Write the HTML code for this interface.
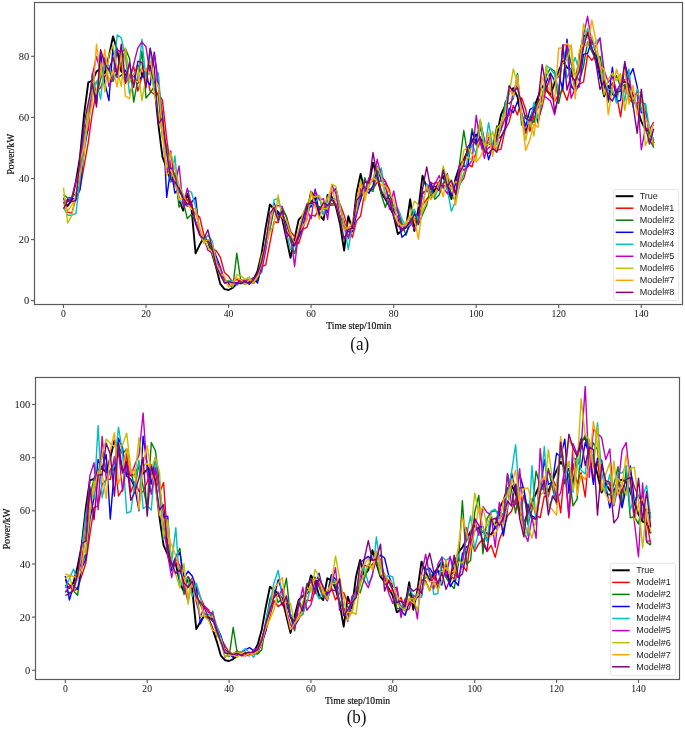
<!DOCTYPE html>
<html><head><meta charset="utf-8"><style>
html,body{margin:0;padding:0;background:#fff;}
body{width:685px;height:731px;overflow:hidden;}
svg{display:block;will-change:transform;}
.tk{font-family:"Liberation Serif",serif;font-size:10.9px;fill:#111;}
.al{font-family:"Liberation Serif",serif;font-size:10.7px;fill:#111;stroke:#111;stroke-width:0.2px;}
.lg{font-family:"Liberation Sans",sans-serif;font-size:9px;fill:#222;}
.cap{font-family:"Liberation Serif",serif;font-size:18.7px;fill:#111;}
</style></head><body>
<svg width="685" height="731" viewBox="0 0 685 731">
<rect width="685" height="731" fill="#fff"/>
<g>
<clipPath id="ca"><rect x="34.5" y="2.5" width="648.0" height="302.0"/></clipPath>
<g clip-path="url(#ca)" fill="none" stroke-width="1.3" stroke-linejoin="round">
<polyline stroke="#000000" stroke-width="1.9" points="63.5,202.9 67.6,206.0 71.8,199.9 75.9,181.6 80.0,157.1 84.1,114.3 88.3,82.3 92.4,80.7 96.5,71.6 100.6,68.5 104.8,73.1 108.9,56.3 113.0,36.4 117.2,50.2 121.3,71.6 125.4,74.6 129.5,76.2 133.7,76.2 137.8,65.5 141.9,74.6 146.0,70.0 150.2,65.5 154.3,83.8 158.4,125.0 162.5,157.1 166.7,167.8 170.8,181.6 174.9,178.5 179.1,199.9 183.2,210.6 187.3,193.8 191.4,207.5 195.6,253.3 199.7,244.8 203.8,237.8 207.9,241.1 212.1,253.7 216.2,267.7 220.3,283.9 224.5,289.1 228.6,290.0 232.7,287.9 236.8,283.9 241.0,282.1 245.1,281.1 249.2,283.3 253.3,279.9 257.5,271.1 261.6,253.7 265.7,227.4 269.9,204.5 274.0,209.0 278.1,212.1 282.2,218.8 286.4,238.4 290.5,257.9 294.6,238.4 298.7,219.7 302.9,215.5 307.0,212.1 311.1,191.6 315.2,198.7 319.4,214.9 323.5,220.0 327.6,195.0 331.8,196.8 335.9,206.6 340.0,223.7 344.1,250.6 348.3,216.1 352.4,229.5 356.5,193.2 360.6,173.9 364.8,191.3 368.9,185.5 373.0,162.6 377.2,177.9 381.3,193.2 385.4,199.0 389.5,206.6 393.7,215.2 397.8,234.1 401.9,230.4 406.0,227.4 410.2,199.3 414.3,231.0 418.4,209.0 422.5,175.8 426.7,187.7 430.8,197.7 434.9,189.8 439.1,182.5 443.2,176.1 447.3,188.6 451.4,199.0 455.6,178.5 459.7,165.7 463.8,159.3 467.9,151.0 472.1,140.9 476.2,134.5 480.3,139.7 484.5,141.5 488.6,143.4 492.7,144.9 496.8,136.0 501.0,114.7 505.1,105.8 509.2,91.7 513.3,88.1 517.5,96.9 521.6,116.5 525.7,132.7 529.9,120.1 534.0,107.6 538.1,96.9 542.2,86.2 546.4,89.9 550.5,95.1 554.6,82.6 558.7,71.0 562.9,61.2 567.0,67.6 571.1,69.4 575.2,88.1 579.4,55.1 583.5,36.7 587.6,33.7 591.8,49.0 595.9,57.2 600.0,75.5 604.1,96.3 608.3,85.9 612.4,94.2 616.5,96.3 620.6,83.5 624.8,81.4 628.9,84.7 633.0,95.4 637.2,107.9 641.3,121.4 645.4,129.6 649.5,131.1 653.7,143.4"/>
<polyline stroke="#ff0000" stroke-width="1.4" points="63.5,197.5 67.6,212.1 71.8,213.1 75.9,198.6 80.0,189.5 84.1,165.7 88.3,142.1 92.4,112.4 96.5,91.9 100.6,87.6 104.8,77.1 108.9,68.8 113.0,72.6 117.2,70.2 121.3,64.7 125.4,83.4 129.5,76.1 133.7,66.3 137.8,91.1 141.9,77.4 146.0,70.1 150.2,91.3 154.3,94.3 158.4,93.3 162.5,100.4 166.7,138.8 170.8,167.6 174.9,177.8 179.1,192.4 183.2,195.5 187.3,199.9 191.4,207.7 195.6,214.1 199.7,217.1 203.8,234.7 207.9,241.9 212.1,248.8 216.2,250.7 220.3,257.2 224.5,272.6 228.6,276.3 232.7,282.3 236.8,279.4 241.0,281.5 245.1,281.0 249.2,283.5 253.3,279.2 257.5,281.0 261.6,266.9 265.7,264.8 269.9,243.2 274.0,221.8 278.1,222.5 282.2,209.3 286.4,216.4 290.5,231.2 294.6,236.8 298.7,243.6 302.9,229.5 307.0,227.2 311.1,215.0 315.2,216.1 319.4,206.7 323.5,214.4 327.6,205.0 331.8,205.2 335.9,204.9 340.0,203.9 344.1,215.1 348.3,228.9 352.4,237.4 356.5,220.9 360.6,216.0 364.8,191.2 368.9,189.3 373.0,189.2 377.2,182.2 381.3,180.7 385.4,181.6 389.5,190.1 393.7,209.7 397.8,210.5 401.9,225.6 406.0,223.6 410.2,225.7 414.3,218.1 418.4,219.6 422.5,205.0 426.7,199.3 430.8,194.1 434.9,182.4 439.1,183.4 443.2,187.0 447.3,184.4 451.4,185.6 455.6,192.4 459.7,183.7 463.8,178.4 467.9,163.9 472.1,166.8 476.2,151.5 480.3,141.4 484.5,152.6 488.6,147.9 492.7,145.1 496.8,150.4 501.0,149.1 505.1,129.7 509.2,121.7 513.3,105.5 517.5,115.0 521.6,97.7 525.7,109.4 529.9,131.3 534.0,115.9 538.1,120.5 542.2,106.7 546.4,87.8 550.5,95.9 554.6,101.3 558.7,94.2 562.9,89.9 567.0,100.3 571.1,84.7 575.2,92.0 579.4,84.2 583.5,82.0 587.6,54.8 591.8,60.3 595.9,55.4 600.0,69.3 604.1,85.1 608.3,90.2 612.4,82.8 616.5,94.4 620.6,116.8 624.8,84.3 628.9,99.4 633.0,102.4 637.2,103.8 641.3,99.9 645.4,112.7 649.5,128.2 653.7,145.5"/>
<polyline stroke="#008000" stroke-width="1.4" points="63.5,194.6 67.6,198.0 71.8,197.1 75.9,193.4 80.0,184.8 84.1,135.3 88.3,110.7 92.4,73.2 96.5,96.0 100.6,79.0 104.8,65.0 108.9,69.6 113.0,81.4 117.2,71.3 121.3,63.9 125.4,48.6 129.5,58.4 133.7,102.1 137.8,79.5 141.9,51.1 146.0,98.0 150.2,92.8 154.3,86.5 158.4,96.5 162.5,137.9 166.7,145.9 170.8,181.4 174.9,172.9 179.1,207.2 183.2,201.6 187.3,218.5 191.4,214.4 195.6,221.6 199.7,234.1 203.8,242.8 207.9,239.9 212.1,250.8 216.2,262.0 220.3,275.7 224.5,280.3 228.6,283.6 232.7,287.8 236.8,253.3 241.0,282.2 245.1,284.4 249.2,281.8 253.3,283.4 257.5,279.5 261.6,263.0 265.7,243.3 269.9,229.6 274.0,209.3 278.1,217.3 282.2,207.4 286.4,216.8 290.5,241.4 294.6,253.6 298.7,235.9 302.9,226.9 307.0,218.7 311.1,200.5 315.2,206.0 319.4,206.6 323.5,209.0 327.6,205.0 331.8,203.7 335.9,203.4 340.0,215.6 344.1,226.9 348.3,236.8 352.4,225.7 356.5,205.1 360.6,200.7 364.8,177.7 368.9,189.9 373.0,191.4 377.2,171.0 381.3,194.7 385.4,207.5 389.5,193.6 393.7,208.5 397.8,211.4 401.9,223.1 406.0,235.4 410.2,219.7 414.3,211.8 418.4,224.7 422.5,214.5 426.7,205.3 430.8,185.7 434.9,199.2 439.1,194.9 443.2,184.2 447.3,173.4 451.4,196.1 455.6,200.2 459.7,162.6 463.8,130.5 467.9,156.6 472.1,128.8 476.2,145.1 480.3,127.8 484.5,143.8 488.6,142.8 492.7,146.6 496.8,125.8 501.0,130.4 505.1,102.3 509.2,103.7 513.3,98.6 517.5,73.4 521.6,125.1 525.7,115.4 529.9,117.3 534.0,122.5 538.1,101.6 542.2,96.2 546.4,74.9 550.5,68.3 554.6,71.3 558.7,103.4 562.9,83.5 567.0,45.6 571.1,63.7 575.2,74.1 579.4,80.8 583.5,66.6 587.6,41.7 591.8,51.4 595.9,59.2 600.0,56.4 604.1,79.7 608.3,102.2 612.4,86.1 616.5,75.7 620.6,86.9 624.8,84.9 628.9,96.1 633.0,99.0 637.2,106.6 641.3,101.8 645.4,104.2 649.5,139.3 653.7,147.8"/>
<polyline stroke="#0000ff" stroke-width="1.4" points="63.5,202.9 67.6,199.6 71.8,198.6 75.9,199.2 80.0,189.3 84.1,151.0 88.3,126.6 92.4,84.8 96.5,103.4 100.6,52.9 104.8,82.7 108.9,100.6 113.0,46.7 117.2,77.6 121.3,75.4 125.4,70.2 129.5,79.6 133.7,75.3 137.8,83.5 141.9,75.6 146.0,79.1 150.2,85.2 154.3,52.3 158.4,84.0 162.5,115.0 166.7,197.4 170.8,168.1 174.9,193.2 179.1,187.4 183.2,200.7 187.3,206.3 191.4,202.4 195.6,197.4 199.7,234.8 203.8,237.8 207.9,240.4 212.1,244.2 216.2,256.6 220.3,266.9 224.5,282.9 228.6,282.7 232.7,282.6 236.8,282.7 241.0,280.7 245.1,283.0 249.2,281.6 253.3,277.8 257.5,283.1 261.6,265.3 265.7,247.6 269.9,228.7 274.0,203.0 278.1,214.4 282.2,213.1 286.4,224.5 290.5,235.5 294.6,244.9 298.7,237.5 302.9,226.6 307.0,207.6 311.1,206.8 315.2,189.3 319.4,215.7 323.5,207.2 327.6,212.3 331.8,192.8 335.9,188.6 340.0,205.9 344.1,223.6 348.3,231.8 352.4,231.6 356.5,214.8 360.6,198.9 364.8,188.3 368.9,193.2 373.0,185.7 377.2,166.7 381.3,180.5 385.4,186.2 389.5,201.1 393.7,211.5 397.8,217.2 401.9,237.2 406.0,233.8 410.2,223.8 414.3,214.1 418.4,217.8 422.5,193.7 426.7,189.8 430.8,182.1 434.9,194.7 439.1,185.3 443.2,186.1 447.3,185.0 451.4,195.9 455.6,183.5 459.7,169.3 463.8,166.0 467.9,166.3 472.1,131.9 476.2,142.0 480.3,121.0 484.5,140.7 488.6,159.7 492.7,146.8 496.8,139.6 501.0,136.6 505.1,129.1 509.2,108.3 513.3,112.7 517.5,101.5 521.6,113.1 525.7,126.1 529.9,109.6 534.0,106.7 538.1,123.1 542.2,99.2 546.4,81.9 550.5,73.0 554.6,81.0 558.7,75.1 562.9,89.3 567.0,39.1 571.1,86.6 575.2,90.9 579.4,83.4 583.5,54.4 587.6,53.4 591.8,40.0 595.9,52.5 600.0,78.5 604.1,85.4 608.3,99.9 612.4,67.3 616.5,101.2 620.6,100.5 624.8,64.3 628.9,77.3 633.0,68.6 637.2,86.6 641.3,112.8 645.4,112.3 649.5,130.1 653.7,140.2"/>
<polyline stroke="#00bfbf" stroke-width="1.4" points="63.5,207.1 67.6,215.2 71.8,215.2 75.9,213.6 80.0,180.3 84.1,140.1 88.3,116.6 92.4,91.4 96.5,81.0 100.6,99.1 104.8,59.4 108.9,65.6 113.0,78.6 117.2,34.9 121.3,37.8 125.4,56.2 129.5,93.8 133.7,81.2 137.8,78.6 141.9,39.2 146.0,80.2 150.2,48.3 154.3,87.4 158.4,72.9 162.5,128.3 166.7,150.5 170.8,181.5 174.9,155.9 179.1,200.5 183.2,202.9 187.3,190.2 191.4,192.2 195.6,206.6 199.7,233.2 203.8,241.6 207.9,235.1 212.1,240.6 216.2,261.1 220.3,268.1 224.5,281.0 228.6,280.5 232.7,281.5 236.8,285.5 241.0,280.4 245.1,279.8 249.2,279.1 253.3,281.9 257.5,276.4 261.6,272.4 265.7,239.3 269.9,228.0 274.0,199.9 278.1,198.3 282.2,214.4 286.4,232.0 290.5,249.4 294.6,246.4 298.7,230.9 302.9,219.2 307.0,203.6 311.1,204.3 315.2,202.3 319.4,196.8 323.5,215.4 327.6,197.4 331.8,199.4 335.9,199.0 340.0,205.7 344.1,225.4 348.3,249.4 352.4,225.5 356.5,211.2 360.6,194.5 364.8,188.8 368.9,181.4 373.0,179.1 377.2,177.7 381.3,168.0 385.4,195.0 389.5,205.0 393.7,207.6 397.8,208.1 401.9,218.6 406.0,226.8 410.2,224.6 414.3,209.2 418.4,219.5 422.5,205.8 426.7,183.5 430.8,193.0 434.9,197.0 439.1,186.7 443.2,170.2 447.3,189.5 451.4,211.2 455.6,201.0 459.7,185.5 463.8,173.6 467.9,158.0 472.1,144.0 476.2,154.4 480.3,120.5 484.5,151.6 488.6,122.6 492.7,146.1 496.8,144.1 501.0,126.2 505.1,107.7 509.2,85.4 513.3,97.5 517.5,74.9 521.6,120.6 525.7,117.9 529.9,125.7 534.0,102.1 538.1,118.4 542.2,101.4 546.4,65.5 550.5,69.0 554.6,74.3 558.7,90.2 562.9,45.3 567.0,77.8 571.1,68.9 575.2,57.4 579.4,72.2 583.5,42.8 587.6,28.4 591.8,49.1 595.9,41.9 600.0,37.9 604.1,79.1 608.3,89.8 612.4,89.7 616.5,103.1 620.6,80.3 624.8,101.1 628.9,69.0 633.0,107.3 637.2,89.1 641.3,109.5 645.4,103.6 649.5,128.7 653.7,140.1"/>
<polyline stroke="#bf00bf" stroke-width="1.4" points="63.5,199.0 67.6,201.7 71.8,197.4 75.9,182.0 80.0,167.1 84.1,125.0 88.3,130.6 92.4,74.9 96.5,56.5 100.6,71.9 104.8,57.8 108.9,86.2 113.0,78.2 117.2,49.5 121.3,52.5 125.4,49.0 129.5,82.0 133.7,64.0 137.8,48.1 141.9,41.9 146.0,46.8 150.2,74.6 154.3,54.1 158.4,87.1 162.5,123.0 166.7,173.6 170.8,151.0 174.9,184.9 179.1,166.0 183.2,207.3 187.3,188.2 191.4,204.5 195.6,221.8 199.7,232.8 203.8,238.2 207.9,250.2 212.1,253.0 216.2,261.0 220.3,267.5 224.5,280.1 228.6,285.6 232.7,283.2 236.8,284.3 241.0,279.9 245.1,281.9 249.2,279.6 253.3,278.9 257.5,276.3 261.6,271.1 265.7,250.6 269.9,222.7 274.0,206.3 278.1,205.6 282.2,206.4 286.4,237.1 290.5,233.6 294.6,266.5 298.7,230.7 302.9,229.7 307.0,210.4 311.1,218.8 315.2,190.7 319.4,200.0 323.5,198.6 327.6,219.3 331.8,184.6 335.9,193.7 340.0,217.2 344.1,220.7 348.3,238.7 352.4,223.2 356.5,213.5 360.6,188.8 364.8,191.3 368.9,177.7 373.0,181.8 377.2,159.3 381.3,175.8 385.4,181.2 389.5,209.4 393.7,191.0 397.8,211.4 401.9,230.8 406.0,224.8 410.2,221.4 414.3,229.0 418.4,221.9 422.5,192.3 426.7,191.2 430.8,182.9 434.9,184.2 439.1,175.5 443.2,187.3 447.3,193.7 451.4,185.2 455.6,192.8 459.7,164.7 463.8,170.2 467.9,166.7 472.1,160.2 476.2,115.4 480.3,142.4 484.5,158.4 488.6,137.5 492.7,147.8 496.8,140.0 501.0,130.0 505.1,118.0 509.2,115.4 513.3,91.0 517.5,85.3 521.6,113.5 525.7,133.3 529.9,124.2 534.0,112.8 538.1,108.1 542.2,96.0 546.4,97.4 550.5,101.1 554.6,114.9 558.7,94.7 562.9,45.0 567.0,45.1 571.1,98.3 575.2,88.1 579.4,86.8 583.5,34.9 587.6,16.3 591.8,43.3 595.9,46.9 600.0,38.0 604.1,70.6 608.3,82.3 612.4,76.8 616.5,91.0 620.6,83.9 624.8,79.6 628.9,78.6 633.0,98.5 637.2,92.7 641.3,149.5 645.4,128.3 649.5,129.5 653.7,122.0"/>
<polyline stroke="#bfbf00" stroke-width="1.4" points="63.5,187.7 67.6,222.8 71.8,215.3 75.9,194.1 80.0,175.1 84.1,155.1 88.3,106.6 92.4,85.4 96.5,93.7 100.6,63.0 104.8,91.8 108.9,55.2 113.0,45.4 117.2,69.3 121.3,86.4 125.4,48.0 129.5,81.7 133.7,75.0 137.8,66.9 141.9,100.7 146.0,77.1 150.2,71.7 154.3,91.9 158.4,112.8 162.5,134.8 166.7,168.0 170.8,152.7 174.9,169.0 179.1,185.0 183.2,194.2 187.3,203.9 191.4,209.4 195.6,208.4 199.7,228.8 203.8,238.7 207.9,247.0 212.1,252.0 216.2,266.4 220.3,275.8 224.5,281.8 228.6,281.4 232.7,286.4 236.8,274.8 241.0,275.9 245.1,279.5 249.2,276.8 253.3,283.1 257.5,276.5 261.6,256.5 265.7,245.3 269.9,231.5 274.0,225.1 278.1,195.0 282.2,217.5 286.4,220.0 290.5,234.0 294.6,245.2 298.7,231.0 302.9,213.5 307.0,203.8 311.1,196.0 315.2,197.0 319.4,195.3 323.5,209.0 327.6,208.3 331.8,184.2 335.9,186.4 340.0,206.2 344.1,224.6 348.3,230.1 352.4,221.0 356.5,210.3 360.6,180.7 364.8,195.5 368.9,186.6 373.0,178.9 377.2,167.3 381.3,176.3 385.4,198.1 389.5,199.8 393.7,215.4 397.8,222.1 401.9,226.3 406.0,222.7 410.2,215.9 414.3,201.1 418.4,205.1 422.5,211.6 426.7,201.4 430.8,196.9 434.9,192.8 439.1,189.5 443.2,166.0 447.3,182.1 451.4,189.5 455.6,181.4 459.7,184.0 463.8,161.3 467.9,156.9 472.1,160.1 476.2,159.8 480.3,119.1 484.5,144.9 488.6,144.1 492.7,131.2 496.8,151.2 501.0,121.8 505.1,113.2 509.2,93.8 513.3,68.9 517.5,83.4 521.6,114.1 525.7,140.0 529.9,120.3 534.0,136.0 538.1,102.1 542.2,103.8 546.4,65.5 550.5,88.7 554.6,79.7 558.7,75.3 562.9,62.7 567.0,60.2 571.1,44.8 575.2,76.4 579.4,70.2 583.5,23.9 587.6,37.7 591.8,35.5 595.9,51.1 600.0,61.9 604.1,94.9 608.3,79.3 612.4,72.9 616.5,80.6 620.6,73.6 624.8,110.4 628.9,88.0 633.0,99.3 637.2,94.0 641.3,91.4 645.4,145.5 649.5,136.6 653.7,123.8"/>
<polyline stroke="#ffa500" stroke-width="1.4" points="63.5,203.2 67.6,211.1 71.8,205.3 75.9,197.4 80.0,160.5 84.1,146.4 88.3,121.0 92.4,101.5 96.5,44.1 100.6,76.2 104.8,49.5 108.9,82.0 113.0,69.8 117.2,86.8 121.3,51.1 125.4,96.0 129.5,98.7 133.7,79.2 137.8,82.5 141.9,67.4 146.0,70.9 150.2,60.9 154.3,79.1 158.4,85.5 162.5,130.2 166.7,175.6 170.8,169.5 174.9,180.7 179.1,199.7 183.2,197.1 187.3,205.1 191.4,208.5 195.6,212.5 199.7,227.5 203.8,243.2 207.9,239.4 212.1,243.5 216.2,262.2 220.3,273.8 224.5,276.1 228.6,287.1 232.7,282.6 236.8,277.8 241.0,279.9 245.1,284.5 249.2,279.7 253.3,282.3 257.5,276.7 261.6,263.9 265.7,244.6 269.9,223.4 274.0,205.2 278.1,219.5 282.2,214.3 286.4,229.2 290.5,237.4 294.6,243.2 298.7,232.7 302.9,226.2 307.0,219.5 311.1,191.3 315.2,206.6 319.4,219.3 323.5,204.1 327.6,198.1 331.8,187.8 335.9,203.5 340.0,219.1 344.1,230.0 348.3,227.4 352.4,229.5 356.5,200.2 360.6,182.7 364.8,200.7 368.9,183.5 373.0,178.1 377.2,180.8 381.3,184.9 385.4,186.0 389.5,193.1 393.7,200.2 397.8,223.4 401.9,225.8 406.0,225.2 410.2,215.7 414.3,218.7 418.4,239.0 422.5,206.6 426.7,185.7 430.8,199.7 434.9,193.9 439.1,182.2 443.2,196.7 447.3,175.0 451.4,183.8 455.6,205.1 459.7,179.4 463.8,150.2 467.9,147.8 472.1,154.2 476.2,162.0 480.3,156.9 484.5,147.0 488.6,132.7 492.7,156.4 496.8,128.9 501.0,123.6 505.1,114.5 509.2,87.7 513.3,95.8 517.5,76.0 521.6,116.8 525.7,150.4 529.9,139.5 534.0,124.1 538.1,127.3 542.2,77.0 546.4,85.9 550.5,90.1 554.6,101.3 558.7,48.2 562.9,47.7 567.0,43.2 571.1,48.2 575.2,98.8 579.4,50.5 583.5,44.4 587.6,46.4 591.8,20.2 595.9,40.2 600.0,66.3 604.1,69.4 608.3,114.7 612.4,88.2 616.5,69.2 620.6,82.7 624.8,69.4 628.9,104.4 633.0,85.3 637.2,115.2 641.3,92.7 645.4,116.5 649.5,129.0 653.7,144.6"/>
<polyline stroke="#800080" stroke-width="1.4" points="63.5,208.7 67.6,200.6 71.8,201.7 75.9,200.4 80.0,157.3 84.1,123.7 88.3,102.9 92.4,83.4 96.5,107.0 100.6,49.6 104.8,63.8 108.9,69.9 113.0,57.5 117.2,74.4 121.3,44.1 125.4,81.9 129.5,62.2 133.7,87.3 137.8,61.3 141.9,62.4 146.0,88.0 150.2,48.1 154.3,67.6 158.4,124.2 162.5,117.8 166.7,152.9 170.8,179.5 174.9,181.9 179.1,188.6 183.2,198.1 187.3,204.5 191.4,201.6 195.6,224.0 199.7,235.3 203.8,239.0 207.9,229.8 212.1,248.1 216.2,266.6 220.3,274.4 224.5,283.0 228.6,281.8 232.7,282.6 236.8,283.1 241.0,283.8 245.1,280.9 249.2,284.2 253.3,279.7 257.5,273.3 261.6,262.0 265.7,243.2 269.9,213.3 274.0,207.6 278.1,220.6 282.2,210.9 286.4,232.0 290.5,237.4 294.6,245.4 298.7,234.5 302.9,219.3 307.0,204.4 311.1,203.1 315.2,202.1 319.4,210.1 323.5,202.5 327.6,205.6 331.8,199.6 335.9,204.9 340.0,218.9 344.1,239.0 348.3,229.4 352.4,228.4 356.5,200.3 360.6,195.9 364.8,181.5 368.9,183.1 373.0,152.5 377.2,176.7 381.3,190.2 385.4,198.6 389.5,198.8 393.7,217.3 397.8,225.9 401.9,229.0 406.0,227.7 410.2,221.3 414.3,215.2 418.4,214.6 422.5,189.4 426.7,166.9 430.8,189.4 434.9,186.1 439.1,190.9 443.2,169.9 447.3,186.5 451.4,180.2 455.6,194.6 459.7,172.8 463.8,164.8 467.9,146.7 472.1,141.0 476.2,143.9 480.3,136.8 484.5,151.4 488.6,153.5 492.7,148.2 496.8,152.3 501.0,138.4 505.1,128.0 509.2,85.9 513.3,91.4 517.5,87.9 521.6,103.5 525.7,118.5 529.9,120.9 534.0,111.1 538.1,101.2 542.2,64.5 546.4,89.2 550.5,75.4 554.6,111.9 558.7,94.8 562.9,45.3 567.0,90.1 571.1,75.1 575.2,81.5 579.4,71.1 583.5,47.6 587.6,32.5 591.8,48.4 595.9,62.9 600.0,89.5 604.1,80.9 608.3,96.6 612.4,101.0 616.5,91.2 620.6,91.6 624.8,61.4 628.9,90.4 633.0,104.7 637.2,133.3 641.3,89.2 645.4,125.8 649.5,144.1 653.7,128.8"/>
</g>
<rect x="34.5" y="2.5" width="648.0" height="302.0" fill="none" stroke="#5a5a5a" stroke-width="1.2"/>
<line x1="31.0" y1="300.7" x2="34.5" y2="300.7" stroke="#5a5a5a" stroke-width="1.1"/>
<text transform="translate(29.3,304.3) scale(0.96,1)" class="tk" text-anchor="end">0</text>
<line x1="31.0" y1="239.6" x2="34.5" y2="239.6" stroke="#5a5a5a" stroke-width="1.1"/>
<text transform="translate(29.3,243.2) scale(0.96,1)" class="tk" text-anchor="end">20</text>
<line x1="31.0" y1="178.5" x2="34.5" y2="178.5" stroke="#5a5a5a" stroke-width="1.1"/>
<text transform="translate(29.3,182.1) scale(0.96,1)" class="tk" text-anchor="end">40</text>
<line x1="31.0" y1="117.4" x2="34.5" y2="117.4" stroke="#5a5a5a" stroke-width="1.1"/>
<text transform="translate(29.3,121.0) scale(0.96,1)" class="tk" text-anchor="end">60</text>
<line x1="31.0" y1="56.3" x2="34.5" y2="56.3" stroke="#5a5a5a" stroke-width="1.1"/>
<text transform="translate(29.3,59.9) scale(0.96,1)" class="tk" text-anchor="end">80</text>
<line x1="63.5" y1="304.5" x2="63.5" y2="308.0" stroke="#5a5a5a" stroke-width="1.1"/>
<text transform="translate(63.5,317.1) scale(0.89,1)" class="tk" text-anchor="middle">0</text>
<line x1="146.0" y1="304.5" x2="146.0" y2="308.0" stroke="#5a5a5a" stroke-width="1.1"/>
<text transform="translate(146.0,317.1) scale(0.89,1)" class="tk" text-anchor="middle">20</text>
<line x1="228.6" y1="304.5" x2="228.6" y2="308.0" stroke="#5a5a5a" stroke-width="1.1"/>
<text transform="translate(228.6,317.1) scale(0.89,1)" class="tk" text-anchor="middle">40</text>
<line x1="311.1" y1="304.5" x2="311.1" y2="308.0" stroke="#5a5a5a" stroke-width="1.1"/>
<text transform="translate(311.1,317.1) scale(0.89,1)" class="tk" text-anchor="middle">60</text>
<line x1="393.7" y1="304.5" x2="393.7" y2="308.0" stroke="#5a5a5a" stroke-width="1.1"/>
<text transform="translate(393.7,317.1) scale(0.89,1)" class="tk" text-anchor="middle">80</text>
<line x1="476.2" y1="304.5" x2="476.2" y2="308.0" stroke="#5a5a5a" stroke-width="1.1"/>
<text transform="translate(476.2,317.1) scale(0.89,1)" class="tk" text-anchor="middle">100</text>
<line x1="558.7" y1="304.5" x2="558.7" y2="308.0" stroke="#5a5a5a" stroke-width="1.1"/>
<text transform="translate(558.7,317.1) scale(0.89,1)" class="tk" text-anchor="middle">120</text>
<line x1="641.3" y1="304.5" x2="641.3" y2="308.0" stroke="#5a5a5a" stroke-width="1.1"/>
<text transform="translate(641.3,317.1) scale(0.89,1)" class="tk" text-anchor="middle">140</text>
<rect x="613.7" y="189.4" width="65.0" height="111.2" rx="2" fill="#fff" fill-opacity="0.8" stroke="#ddd" stroke-width="0.8"/>
<line x1="615.7" y1="196.2" x2="633.4" y2="196.2" stroke="#000000" stroke-width="2.0"/>
<text x="639.7" y="199.0" class="lg">True</text>
<line x1="615.7" y1="208.2" x2="633.4" y2="208.2" stroke="#ff0000" stroke-width="1.5"/>
<text x="639.7" y="211.0" class="lg">Model#1</text>
<line x1="615.7" y1="220.2" x2="633.4" y2="220.2" stroke="#008000" stroke-width="1.5"/>
<text x="639.7" y="223.0" class="lg">Model#2</text>
<line x1="615.7" y1="232.3" x2="633.4" y2="232.3" stroke="#0000ff" stroke-width="1.5"/>
<text x="639.7" y="235.1" class="lg">Model#3</text>
<line x1="615.7" y1="244.3" x2="633.4" y2="244.3" stroke="#00bfbf" stroke-width="1.5"/>
<text x="639.7" y="247.1" class="lg">Model#4</text>
<line x1="615.7" y1="256.3" x2="633.4" y2="256.3" stroke="#bf00bf" stroke-width="1.5"/>
<text x="639.7" y="259.1" class="lg">Model#5</text>
<line x1="615.7" y1="268.3" x2="633.4" y2="268.3" stroke="#bfbf00" stroke-width="1.5"/>
<text x="639.7" y="271.1" class="lg">Model#6</text>
<line x1="615.7" y1="280.3" x2="633.4" y2="280.3" stroke="#ffa500" stroke-width="1.5"/>
<text x="639.7" y="283.1" class="lg">Model#7</text>
<line x1="615.7" y1="292.4" x2="633.4" y2="292.4" stroke="#800080" stroke-width="1.5"/>
<text x="639.7" y="295.2" class="lg">Model#8</text>
<clipPath id="cb"><rect x="35.5" y="377.5" width="644.0" height="302.0"/></clipPath>
<g clip-path="url(#cb)" fill="none" stroke-width="1.3" stroke-linejoin="round">
<polyline stroke="#000000" stroke-width="1.9" points="65.3,585.2 69.4,587.9 73.5,582.6 77.6,566.6 81.7,545.4 85.8,508.2 89.9,480.3 94.0,478.9 98.1,470.9 102.1,468.3 106.2,472.3 110.3,457.7 114.4,440.4 118.5,452.3 122.6,470.9 126.7,473.6 130.8,474.9 134.9,474.9 139.0,465.6 143.1,473.6 147.2,469.6 151.3,465.6 155.4,481.6 159.5,517.5 163.6,545.4 167.7,554.7 171.7,566.6 175.8,564.0 179.9,582.6 184.0,591.9 188.1,577.3 192.2,589.2 196.3,629.1 200.4,621.7 204.5,615.5 208.6,618.5 212.7,629.4 216.8,641.6 220.9,655.7 225.0,660.2 229.1,661.0 233.2,659.1 237.2,655.7 241.3,654.1 245.4,653.3 249.5,655.1 253.6,652.2 257.7,644.5 261.8,629.4 265.9,606.5 270.0,586.6 274.1,590.6 278.2,593.2 282.3,599.1 286.4,616.1 290.5,633.1 294.6,616.1 298.7,599.9 302.8,596.1 306.8,593.2 310.9,575.4 315.0,581.5 319.1,595.6 323.2,600.1 327.3,578.3 331.4,579.9 335.5,588.4 339.6,603.3 343.7,626.7 347.8,596.7 351.9,608.4 356.0,576.7 360.1,560.0 364.2,575.1 368.3,570.1 372.4,550.2 376.4,563.4 380.5,576.7 384.6,581.8 388.7,588.4 392.8,595.9 396.9,612.4 401.0,609.2 405.1,606.5 409.2,582.1 413.3,609.7 417.4,590.6 421.5,561.6 425.6,572.0 429.7,580.7 433.8,573.8 437.9,567.4 441.9,561.9 446.0,572.8 450.1,581.8 454.2,564.0 458.3,552.8 462.4,547.2 466.5,540.1 470.6,531.3 474.7,525.7 478.8,530.2 482.9,531.8 487.0,533.4 491.1,534.7 495.2,527.0 499.3,508.4 503.4,500.7 507.5,488.5 511.5,485.3 515.6,493.0 519.7,510.0 523.8,524.1 527.9,513.2 532.0,502.3 536.1,493.0 540.2,483.7 544.3,486.9 548.4,491.4 552.5,480.5 556.6,470.4 560.7,461.9 564.8,467.5 568.9,469.1 573.0,485.3 577.1,456.6 581.1,440.6 585.2,438.0 589.3,451.3 593.4,458.5 597.5,474.4 601.6,492.5 605.7,483.4 609.8,490.6 613.9,492.5 618.0,481.3 622.1,479.5 626.2,482.4 630.3,491.7 634.4,502.6 638.5,514.3 642.6,521.5 646.6,522.8 650.7,533.4"/>
<polyline stroke="#ff0000" stroke-width="1.4" points="65.3,579.5 69.4,585.0 73.5,591.3 77.6,588.5 81.7,575.7 85.8,563.3 89.9,534.7 94.0,507.6 98.1,505.8 102.1,484.3 106.2,479.7 110.3,479.3 114.4,456.6 118.5,496.0 122.6,489.2 126.7,452.3 130.8,492.3 134.9,481.8 139.0,491.2 143.1,491.8 147.2,482.1 151.3,465.0 155.4,472.5 159.5,493.0 163.6,482.6 167.7,543.0 171.7,565.3 175.8,562.2 179.9,567.8 184.0,581.5 188.1,576.7 192.2,582.8 196.3,586.7 200.4,597.7 204.5,606.2 208.6,609.7 212.7,620.0 216.8,629.1 220.9,638.3 225.0,645.7 229.1,652.7 233.2,653.8 237.2,651.1 241.3,655.7 245.4,655.5 249.5,652.8 253.6,654.4 257.7,653.1 261.8,643.3 265.9,630.7 270.0,616.1 274.1,600.6 278.2,606.6 282.3,603.3 286.4,599.5 290.5,617.4 294.6,620.3 298.7,618.3 302.8,613.3 306.8,600.1 310.9,600.7 315.0,580.5 319.1,580.6 323.2,588.8 327.3,596.3 331.4,587.3 335.5,599.9 339.6,593.0 343.7,592.6 347.8,603.4 351.9,603.0 356.0,597.3 360.1,584.8 364.2,565.2 368.3,566.9 372.4,564.3 376.4,563.5 380.5,565.7 384.6,574.5 388.7,590.7 392.8,590.8 396.9,603.8 401.0,597.3 405.1,610.8 409.2,608.9 413.3,595.5 417.4,597.6 421.5,579.5 425.6,580.7 429.7,590.7 433.8,576.1 437.9,587.6 441.9,565.2 446.0,573.3 450.1,576.2 454.2,578.9 458.3,557.9 462.4,565.2 466.5,571.1 470.6,539.6 474.7,551.3 478.8,543.7 482.9,538.6 487.0,551.5 491.1,545.3 495.2,557.3 499.3,539.8 503.4,529.8 507.5,515.7 511.5,511.3 515.6,498.8 519.7,514.9 523.8,495.5 527.9,514.6 532.0,501.7 536.1,515.6 540.2,517.5 544.3,496.2 548.4,496.5 552.5,479.2 556.6,487.0 560.7,512.7 564.8,466.7 568.9,518.0 573.0,463.5 577.1,483.3 581.1,472.6 585.2,497.0 589.3,450.3 593.4,478.6 597.5,461.6 601.6,490.0 605.7,482.7 609.8,484.1 613.9,492.2 618.0,480.2 622.1,492.2 626.2,489.4 630.3,471.7 634.4,487.3 638.5,495.9 642.6,499.3 646.6,520.7 650.7,544.5"/>
<polyline stroke="#008000" stroke-width="1.4" points="65.3,590.8 69.4,592.8 73.5,591.0 77.6,595.3 81.7,565.5 85.8,553.5 89.9,496.7 94.0,478.6 98.1,473.6 102.1,452.4 106.2,471.2 110.3,472.2 114.4,468.6 118.5,446.5 122.6,454.2 126.7,448.7 130.8,471.0 134.9,489.1 139.0,461.8 143.1,486.8 147.2,507.3 151.3,442.5 155.4,450.7 159.5,484.4 163.6,534.4 167.7,544.7 171.7,565.9 175.8,556.7 179.9,548.3 184.0,594.5 188.1,585.9 192.2,578.3 196.3,594.6 200.4,604.8 204.5,614.3 208.6,619.8 212.7,611.3 216.8,636.4 220.9,637.6 225.0,651.2 229.1,656.8 233.2,627.5 237.2,653.1 241.3,651.6 245.4,655.8 249.5,653.3 253.6,653.2 257.7,654.0 261.8,649.7 265.9,622.0 270.0,598.8 274.1,591.0 278.2,602.6 282.3,597.9 286.4,578.3 290.5,616.5 294.6,630.9 298.7,600.9 302.8,607.9 306.8,583.7 310.9,582.9 315.0,577.1 319.1,587.0 323.2,597.5 327.3,595.5 331.4,576.0 335.5,583.8 339.6,600.9 343.7,610.0 347.8,606.3 351.9,613.0 356.0,587.6 360.1,592.9 364.2,578.9 368.3,567.6 372.4,564.0 376.4,560.2 380.5,575.7 384.6,574.2 388.7,582.3 392.8,590.1 396.9,608.5 401.0,608.7 405.1,599.2 409.2,593.9 413.3,603.2 417.4,595.7 421.5,581.1 425.6,577.8 429.7,575.9 433.8,573.5 437.9,572.2 441.9,570.0 446.0,577.4 450.1,584.3 454.2,588.6 458.3,564.6 462.4,500.7 466.5,564.3 470.6,560.5 474.7,512.4 478.8,495.4 482.9,553.8 487.0,518.6 491.1,511.7 495.2,510.8 499.3,512.4 503.4,514.6 507.5,473.9 511.5,490.2 515.6,513.1 519.7,487.7 523.8,487.6 527.9,524.9 532.0,509.9 536.1,471.1 540.2,486.5 544.3,490.6 548.4,468.5 552.5,488.1 556.6,504.2 560.7,443.5 564.8,484.0 568.9,473.7 573.0,505.8 577.1,499.2 581.1,444.4 585.2,435.1 589.3,458.5 593.4,442.9 597.5,449.6 601.6,486.1 605.7,492.3 609.8,495.1 613.9,484.6 618.0,466.7 622.1,506.4 626.2,469.2 630.3,517.7 634.4,516.7 638.5,524.1 642.6,499.2 646.6,542.1 650.7,545.1"/>
<polyline stroke="#0000ff" stroke-width="1.4" points="65.3,576.0 69.4,600.1 73.5,585.7 77.6,589.2 81.7,568.2 85.8,559.2 89.9,519.9 94.0,498.2 98.1,459.5 102.1,468.5 106.2,454.5 110.3,519.1 114.4,468.5 118.5,438.3 122.6,448.0 126.7,476.2 130.8,479.2 134.9,488.3 139.0,510.8 143.1,436.1 147.2,464.1 151.3,484.1 155.4,457.6 159.5,488.1 163.6,517.1 167.7,516.1 171.7,570.9 175.8,557.3 179.9,552.6 184.0,578.2 188.1,571.2 192.2,576.0 196.3,587.2 200.4,623.7 204.5,613.7 208.6,616.4 212.7,621.2 216.8,626.7 220.9,635.8 225.0,649.6 229.1,653.9 233.2,657.6 237.2,651.3 241.3,652.8 245.4,649.7 249.5,647.6 253.6,650.6 257.7,650.9 261.8,643.0 265.9,630.6 270.0,600.1 274.1,597.4 278.2,579.7 282.3,592.0 286.4,604.2 290.5,616.1 294.6,625.8 298.7,619.4 302.8,604.6 306.8,593.8 310.9,589.0 315.0,588.4 319.1,573.3 323.2,591.4 327.3,594.9 331.4,574.7 335.5,579.2 339.6,582.6 343.7,609.5 347.8,615.2 351.9,603.3 356.0,597.2 360.1,579.4 364.2,559.4 368.3,556.4 372.4,560.3 376.4,560.2 380.5,555.1 384.6,558.0 388.7,575.5 392.8,586.5 396.9,588.4 401.0,610.7 405.1,615.3 409.2,602.2 413.3,601.6 417.4,596.8 421.5,596.9 425.6,570.3 429.7,568.2 433.8,574.8 437.9,569.7 441.9,585.1 446.0,562.5 450.1,586.5 454.2,580.1 458.3,585.5 462.4,553.6 466.5,547.0 470.6,545.0 474.7,531.0 478.8,527.7 482.9,526.4 487.0,540.6 491.1,517.1 495.2,528.5 499.3,511.6 503.4,535.8 507.5,509.3 511.5,472.6 515.6,491.5 519.7,474.2 523.8,489.7 527.9,511.4 532.0,515.8 536.1,518.4 540.2,492.3 544.3,459.6 548.4,484.5 552.5,481.8 556.6,453.2 560.7,457.3 564.8,439.1 568.9,493.1 573.0,457.6 577.1,460.0 581.1,467.7 585.2,442.6 589.3,454.1 593.4,484.4 597.5,458.1 601.6,460.1 605.7,485.0 609.8,507.9 613.9,489.2 618.0,489.7 622.1,507.8 626.2,487.4 630.3,466.0 634.4,500.8 638.5,495.7 642.6,502.8 646.6,512.8 650.7,512.7"/>
<polyline stroke="#00bfbf" stroke-width="1.4" points="65.3,588.1 69.4,578.8 73.5,569.1 77.6,579.8 81.7,549.1 85.8,514.6 89.9,491.0 94.0,498.4 98.1,425.5 102.1,497.8 106.2,479.1 110.3,473.0 114.4,465.9 118.5,427.1 122.6,453.6 126.7,513.1 130.8,511.5 134.9,482.6 139.0,460.2 143.1,508.8 147.2,505.7 151.3,509.9 155.4,457.6 159.5,492.3 163.6,539.9 167.7,519.8 171.7,562.1 175.8,527.8 179.9,587.2 184.0,577.9 188.1,578.8 192.2,596.6 196.3,583.5 200.4,596.7 204.5,615.1 208.6,614.4 212.7,612.4 216.8,625.9 220.9,637.7 225.0,651.9 229.1,653.7 233.2,654.1 237.2,651.9 241.3,651.7 245.4,648.7 249.5,652.4 253.6,657.2 257.7,649.4 261.8,643.2 265.9,619.6 270.0,602.9 274.1,582.4 278.2,570.4 282.3,596.4 286.4,598.3 290.5,614.1 294.6,619.5 298.7,613.9 302.8,614.7 306.8,602.5 310.9,587.2 315.0,590.4 319.1,598.9 323.2,590.0 327.3,600.9 331.4,582.8 335.5,580.5 339.6,590.3 343.7,610.0 347.8,612.3 351.9,602.7 356.0,591.7 360.1,578.9 364.2,566.8 368.3,583.6 372.4,576.4 376.4,536.9 380.5,567.8 384.6,577.5 388.7,575.5 392.8,576.8 396.9,600.7 401.0,605.1 405.1,609.1 409.2,586.6 413.3,596.8 417.4,593.9 421.5,596.3 425.6,568.1 429.7,569.6 433.8,594.4 437.9,593.5 441.9,556.7 446.0,560.5 450.1,557.4 454.2,567.3 458.3,554.3 462.4,567.4 466.5,535.9 470.6,515.9 474.7,549.3 478.8,530.0 482.9,531.0 487.0,541.2 491.1,511.2 495.2,509.2 499.3,518.7 503.4,513.6 507.5,492.9 511.5,472.9 515.6,444.6 519.7,500.4 523.8,520.7 527.9,535.5 532.0,465.6 536.1,524.7 540.2,491.8 544.3,446.5 548.4,507.2 552.5,498.9 556.6,487.6 560.7,438.9 564.8,478.2 568.9,462.1 573.0,492.4 577.1,456.1 581.1,470.3 585.2,474.1 589.3,440.6 593.4,462.4 597.5,422.8 601.6,471.8 605.7,491.9 609.8,474.5 613.9,500.1 618.0,472.7 622.1,473.0 626.2,465.6 630.3,509.7 634.4,498.3 638.5,496.4 642.6,496.7 646.6,485.3 650.7,518.4"/>
<polyline stroke="#bf00bf" stroke-width="1.4" points="65.3,592.3 69.4,586.5 73.5,587.3 77.6,573.6 81.7,561.8 85.8,529.1 89.9,475.6 94.0,462.6 98.1,509.8 102.1,436.4 106.2,478.7 110.3,469.8 114.4,462.7 118.5,450.3 122.6,491.2 126.7,464.1 130.8,475.9 134.9,464.6 139.0,455.3 143.1,413.0 147.2,473.0 151.3,494.1 155.4,467.6 159.5,486.1 163.6,525.0 167.7,555.2 171.7,577.6 175.8,558.3 179.9,565.9 184.0,586.2 188.1,601.8 192.2,578.1 196.3,602.1 200.4,617.0 204.5,606.1 208.6,612.5 212.7,613.2 216.8,629.6 220.9,641.2 225.0,657.2 229.1,654.7 233.2,653.9 237.2,655.2 241.3,652.9 245.4,655.0 249.5,655.9 253.6,649.6 257.7,648.7 261.8,638.3 265.9,625.7 270.0,609.2 274.1,594.7 278.2,596.6 282.3,589.1 286.4,610.0 290.5,624.8 294.6,629.1 298.7,606.7 302.8,587.3 306.8,610.2 310.9,604.9 315.0,589.8 319.1,583.1 323.2,595.3 327.3,600.7 331.4,585.8 335.5,567.7 339.6,610.3 343.7,608.0 347.8,621.5 351.9,596.6 356.0,592.2 360.1,574.5 364.2,580.4 368.3,587.7 372.4,574.2 376.4,558.7 380.5,559.3 384.6,577.6 388.7,593.1 392.8,603.6 396.9,586.9 401.0,617.6 405.1,599.1 409.2,604.6 413.3,595.4 417.4,619.0 421.5,574.4 425.6,554.3 429.7,574.8 433.8,588.7 437.9,564.2 441.9,557.4 446.0,577.1 450.1,556.3 454.2,574.6 458.3,577.5 462.4,564.1 466.5,527.7 470.6,547.7 474.7,518.7 478.8,535.4 482.9,506.4 487.0,512.3 491.1,514.6 495.2,547.3 499.3,502.5 503.4,523.5 507.5,473.6 511.5,504.5 515.6,504.6 519.7,468.6 523.8,530.9 527.9,541.4 532.0,517.7 536.1,538.4 540.2,448.6 544.3,494.0 548.4,470.5 552.5,478.2 556.6,499.4 560.7,492.6 564.8,468.0 568.9,515.6 573.0,443.4 577.1,454.1 581.1,448.6 585.2,386.4 589.3,477.2 593.4,429.3 597.5,433.6 601.6,437.6 605.7,459.5 609.8,448.9 613.9,505.9 618.0,486.7 622.1,450.2 626.2,442.7 630.3,483.1 634.4,522.3 638.5,556.8 642.6,482.9 646.6,541.2 650.7,540.9"/>
<polyline stroke="#bfbf00" stroke-width="1.4" points="65.3,578.8 69.4,575.1 73.5,591.2 77.6,578.2 81.7,547.4 85.8,553.7 89.9,514.4 94.0,481.7 98.1,482.1 102.1,455.1 106.2,439.1 110.3,443.3 114.4,446.6 118.5,448.3 122.6,444.7 126.7,433.1 130.8,469.0 134.9,477.6 139.0,437.7 143.1,465.8 147.2,463.2 151.3,468.8 155.4,457.4 159.5,472.1 163.6,536.6 167.7,520.6 171.7,565.5 175.8,574.6 179.9,588.0 184.0,563.4 188.1,604.2 192.2,579.7 196.3,596.3 200.4,616.4 204.5,615.7 208.6,615.7 212.7,617.3 216.8,635.4 220.9,638.5 225.0,656.3 229.1,655.6 233.2,653.3 237.2,652.7 241.3,653.3 245.4,655.6 249.5,653.1 253.6,653.6 257.7,651.6 261.8,639.0 265.9,627.6 270.0,619.1 274.1,609.4 278.2,591.4 282.3,601.3 286.4,602.4 290.5,603.4 294.6,622.9 298.7,616.1 302.8,602.1 306.8,586.4 310.9,592.3 315.0,569.5 319.1,577.2 323.2,591.4 327.3,599.5 331.4,582.8 335.5,556.0 339.6,578.0 343.7,598.2 347.8,620.2 351.9,611.8 356.0,614.4 360.1,583.4 364.2,575.1 368.3,564.3 372.4,569.4 376.4,551.1 380.5,574.8 384.6,574.1 388.7,581.3 392.8,591.2 396.9,602.7 401.0,607.5 405.1,610.2 409.2,598.1 413.3,598.9 417.4,610.2 421.5,590.1 425.6,582.4 429.7,590.3 433.8,582.3 437.9,590.5 441.9,580.9 446.0,560.1 450.1,576.7 454.2,573.1 458.3,561.9 462.4,562.7 466.5,555.5 470.6,535.7 474.7,493.0 478.8,512.5 482.9,507.0 487.0,526.6 491.1,514.6 495.2,525.5 499.3,521.2 503.4,524.8 507.5,507.1 511.5,480.1 515.6,485.8 519.7,503.1 523.8,537.4 527.9,527.5 532.0,538.1 536.1,518.3 540.2,495.3 544.3,491.8 548.4,449.6 552.5,480.5 556.6,492.1 560.7,439.9 564.8,474.1 568.9,461.1 573.0,490.0 577.1,468.8 581.1,398.7 585.2,435.3 589.3,439.4 593.4,468.0 597.5,426.9 601.6,490.6 605.7,474.4 609.8,462.8 613.9,504.4 618.0,478.9 622.1,483.8 626.2,495.1 630.3,468.3 634.4,467.2 638.5,501.2 642.6,548.0 646.6,508.9 650.7,532.3"/>
<polyline stroke="#ffa500" stroke-width="1.4" points="65.3,573.8 69.4,575.7 73.5,576.3 77.6,578.1 81.7,569.8 85.8,533.2 89.9,501.5 94.0,490.9 98.1,471.0 102.1,473.8 106.2,498.4 110.3,450.5 114.4,432.6 118.5,483.9 122.6,472.1 126.7,448.7 130.8,473.5 134.9,469.5 139.0,509.9 143.1,463.5 147.2,445.7 151.3,473.0 155.4,485.1 159.5,515.2 163.6,519.9 167.7,537.3 171.7,544.8 175.8,555.7 179.9,571.1 184.0,578.5 188.1,596.3 192.2,580.8 196.3,599.5 200.4,601.1 204.5,617.0 208.6,620.1 212.7,630.3 216.8,632.2 220.9,643.9 225.0,650.6 229.1,655.1 233.2,655.2 237.2,657.0 241.3,653.4 245.4,651.1 249.5,655.6 253.6,653.7 257.7,650.7 261.8,643.0 265.9,627.3 270.0,613.1 274.1,587.9 278.2,583.2 282.3,577.6 286.4,611.2 290.5,629.6 294.6,623.3 298.7,618.4 302.8,610.9 306.8,592.5 310.9,585.7 315.0,579.1 319.1,579.4 323.2,593.9 327.3,590.9 331.4,583.7 335.5,583.3 339.6,578.3 343.7,612.4 347.8,612.2 351.9,613.6 356.0,594.8 360.1,572.6 364.2,564.3 368.3,558.4 372.4,570.3 376.4,551.0 380.5,562.2 384.6,583.6 388.7,579.6 392.8,583.3 396.9,596.3 401.0,601.3 405.1,606.7 409.2,599.6 413.3,603.0 417.4,595.4 421.5,575.3 425.6,575.3 429.7,582.0 433.8,581.4 437.9,581.3 441.9,572.1 446.0,567.7 450.1,572.6 454.2,571.0 458.3,547.1 462.4,517.5 466.5,532.2 470.6,549.9 474.7,531.8 478.8,506.6 482.9,527.3 487.0,536.3 491.1,536.0 495.2,533.1 499.3,526.4 503.4,499.6 507.5,494.7 511.5,484.2 515.6,470.1 519.7,500.6 523.8,488.7 527.9,487.9 532.0,501.9 536.1,512.9 540.2,481.7 544.3,477.0 548.4,506.3 552.5,509.8 556.6,515.2 560.7,436.4 564.8,473.0 568.9,439.6 573.0,447.1 577.1,495.0 581.1,474.5 585.2,479.5 589.3,464.9 593.4,421.5 597.5,444.1 601.6,482.8 605.7,494.5 609.8,502.5 613.9,460.9 618.0,495.4 622.1,484.6 626.2,455.0 630.3,479.1 634.4,520.8 638.5,504.0 642.6,498.7 646.6,509.6 650.7,509.1"/>
<polyline stroke="#800080" stroke-width="1.4" points="65.3,595.4 69.4,593.9 73.5,589.9 77.6,574.6 81.7,543.5 85.8,541.2 89.9,486.5 94.0,519.8 98.1,474.9 102.1,475.0 106.2,443.3 110.3,454.2 114.4,496.1 118.5,441.5 122.6,472.9 126.7,461.5 130.8,500.4 134.9,491.8 139.0,478.0 143.1,457.5 147.2,516.1 151.3,466.2 155.4,482.1 159.5,510.0 163.6,504.6 167.7,550.0 171.7,564.2 175.8,573.4 179.9,570.0 184.0,582.9 188.1,587.3 192.2,581.3 196.3,596.9 200.4,602.4 204.5,608.1 208.6,617.9 212.7,618.9 216.8,631.2 220.9,642.0 225.0,653.0 229.1,653.4 233.2,654.5 237.2,653.4 241.3,655.5 245.4,652.9 249.5,652.5 253.6,652.2 257.7,649.6 261.8,640.1 265.9,622.8 270.0,610.8 274.1,596.8 278.2,592.8 282.3,605.6 286.4,595.9 290.5,617.7 294.6,621.1 298.7,603.0 302.8,611.2 306.8,586.1 310.9,578.4 315.0,593.8 319.1,578.5 323.2,586.5 327.3,594.0 331.4,590.2 335.5,590.4 339.6,579.0 343.7,615.6 347.8,609.5 351.9,602.7 356.0,597.6 360.1,562.8 364.2,559.4 368.3,540.6 372.4,560.5 376.4,559.0 380.5,544.1 384.6,591.1 388.7,580.4 392.8,589.9 396.9,602.6 401.0,600.9 405.1,606.8 409.2,586.7 413.3,591.3 417.4,588.0 421.5,593.2 425.6,565.9 429.7,553.2 433.8,571.7 437.9,583.5 441.9,572.7 446.0,589.3 450.1,579.5 454.2,555.2 458.3,577.4 462.4,574.0 466.5,553.4 470.6,536.1 474.7,518.6 478.8,525.5 482.9,544.0 487.0,550.7 491.1,520.1 495.2,518.1 499.3,525.6 503.4,518.1 507.5,501.0 511.5,506.1 515.6,484.2 519.7,518.5 523.8,536.4 527.9,504.0 532.0,518.2 536.1,519.2 540.2,492.3 544.3,480.6 548.4,515.0 552.5,496.0 556.6,502.2 560.7,442.1 564.8,473.2 568.9,434.3 573.0,447.8 577.1,456.5 581.1,438.2 585.2,465.5 589.3,447.0 593.4,449.6 597.5,515.1 601.6,464.7 605.7,480.6 609.8,482.4 613.9,522.9 618.0,517.6 622.1,490.7 626.2,479.3 630.3,477.5 634.4,517.3 638.5,478.1 642.6,520.1 646.6,491.5 650.7,527.4"/>
</g>
<rect x="35.5" y="377.5" width="644.0" height="302.0" fill="none" stroke="#5a5a5a" stroke-width="1.2"/>
<line x1="32.0" y1="670.3" x2="35.5" y2="670.3" stroke="#5a5a5a" stroke-width="1.1"/>
<text transform="translate(30.3,673.9) scale(0.96,1)" class="tk" text-anchor="end">0</text>
<line x1="32.0" y1="617.1" x2="35.5" y2="617.1" stroke="#5a5a5a" stroke-width="1.1"/>
<text transform="translate(30.3,620.7) scale(0.96,1)" class="tk" text-anchor="end">20</text>
<line x1="32.0" y1="564.0" x2="35.5" y2="564.0" stroke="#5a5a5a" stroke-width="1.1"/>
<text transform="translate(30.3,567.6) scale(0.96,1)" class="tk" text-anchor="end">40</text>
<line x1="32.0" y1="510.8" x2="35.5" y2="510.8" stroke="#5a5a5a" stroke-width="1.1"/>
<text transform="translate(30.3,514.4) scale(0.96,1)" class="tk" text-anchor="end">60</text>
<line x1="32.0" y1="457.7" x2="35.5" y2="457.7" stroke="#5a5a5a" stroke-width="1.1"/>
<text transform="translate(30.3,461.3) scale(0.96,1)" class="tk" text-anchor="end">80</text>
<line x1="32.0" y1="404.5" x2="35.5" y2="404.5" stroke="#5a5a5a" stroke-width="1.1"/>
<text transform="translate(30.3,408.1) scale(0.96,1)" class="tk" text-anchor="end">100</text>
<line x1="65.3" y1="679.5" x2="65.3" y2="683.0" stroke="#5a5a5a" stroke-width="1.1"/>
<text transform="translate(65.3,692.1) scale(0.89,1)" class="tk" text-anchor="middle">0</text>
<line x1="147.2" y1="679.5" x2="147.2" y2="683.0" stroke="#5a5a5a" stroke-width="1.1"/>
<text transform="translate(147.2,692.1) scale(0.89,1)" class="tk" text-anchor="middle">20</text>
<line x1="229.1" y1="679.5" x2="229.1" y2="683.0" stroke="#5a5a5a" stroke-width="1.1"/>
<text transform="translate(229.1,692.1) scale(0.89,1)" class="tk" text-anchor="middle">40</text>
<line x1="310.9" y1="679.5" x2="310.9" y2="683.0" stroke="#5a5a5a" stroke-width="1.1"/>
<text transform="translate(310.9,692.1) scale(0.89,1)" class="tk" text-anchor="middle">60</text>
<line x1="392.8" y1="679.5" x2="392.8" y2="683.0" stroke="#5a5a5a" stroke-width="1.1"/>
<text transform="translate(392.8,692.1) scale(0.89,1)" class="tk" text-anchor="middle">80</text>
<line x1="474.7" y1="679.5" x2="474.7" y2="683.0" stroke="#5a5a5a" stroke-width="1.1"/>
<text transform="translate(474.7,692.1) scale(0.89,1)" class="tk" text-anchor="middle">100</text>
<line x1="556.6" y1="679.5" x2="556.6" y2="683.0" stroke="#5a5a5a" stroke-width="1.1"/>
<text transform="translate(556.6,692.1) scale(0.89,1)" class="tk" text-anchor="middle">120</text>
<line x1="638.5" y1="679.5" x2="638.5" y2="683.0" stroke="#5a5a5a" stroke-width="1.1"/>
<text transform="translate(638.5,692.1) scale(0.89,1)" class="tk" text-anchor="middle">140</text>
<rect x="610.3" y="563.3" width="65.1" height="112.4" rx="2" fill="#fff" fill-opacity="0.8" stroke="#ddd" stroke-width="0.8"/>
<line x1="612.2" y1="570.3" x2="629.7" y2="570.3" stroke="#000000" stroke-width="2.0"/>
<text x="636.2" y="573.1" class="lg">True</text>
<line x1="612.2" y1="582.4" x2="629.7" y2="582.4" stroke="#ff0000" stroke-width="1.5"/>
<text x="636.2" y="585.2" class="lg">Model#1</text>
<line x1="612.2" y1="594.4" x2="629.7" y2="594.4" stroke="#008000" stroke-width="1.5"/>
<text x="636.2" y="597.2" class="lg">Model#2</text>
<line x1="612.2" y1="606.5" x2="629.7" y2="606.5" stroke="#0000ff" stroke-width="1.5"/>
<text x="636.2" y="609.3" class="lg">Model#3</text>
<line x1="612.2" y1="618.5" x2="629.7" y2="618.5" stroke="#00bfbf" stroke-width="1.5"/>
<text x="636.2" y="621.3" class="lg">Model#4</text>
<line x1="612.2" y1="630.6" x2="629.7" y2="630.6" stroke="#bf00bf" stroke-width="1.5"/>
<text x="636.2" y="633.4" class="lg">Model#5</text>
<line x1="612.2" y1="642.7" x2="629.7" y2="642.7" stroke="#bfbf00" stroke-width="1.5"/>
<text x="636.2" y="645.5" class="lg">Model#6</text>
<line x1="612.2" y1="654.7" x2="629.7" y2="654.7" stroke="#ffa500" stroke-width="1.5"/>
<text x="636.2" y="657.5" class="lg">Model#7</text>
<line x1="612.2" y1="666.8" x2="629.7" y2="666.8" stroke="#800080" stroke-width="1.5"/>
<text x="636.2" y="669.6" class="lg">Model#8</text>
<text class="al" transform="translate(13.5,154.2) rotate(-90) scale(0.89,1)" text-anchor="middle">Power/kW</text>
<text class="al" transform="translate(10.2,528.8) rotate(-90) scale(0.89,1)" text-anchor="middle">Power/kW</text>
<text class="al" transform="translate(358.8,329.4) scale(0.9,1)" text-anchor="middle">Time step/10min</text>
<text class="al" transform="translate(357.6,703.7) scale(0.9,1)" text-anchor="middle">Time step/10min</text>
<text class="cap" transform="translate(359.8,350) scale(0.91,1)" text-anchor="middle">(a)</text>
<text class="cap" transform="translate(356.6,723.3) scale(0.91,1)" text-anchor="middle">(b)</text>
</g>
</svg>
</body></html>
